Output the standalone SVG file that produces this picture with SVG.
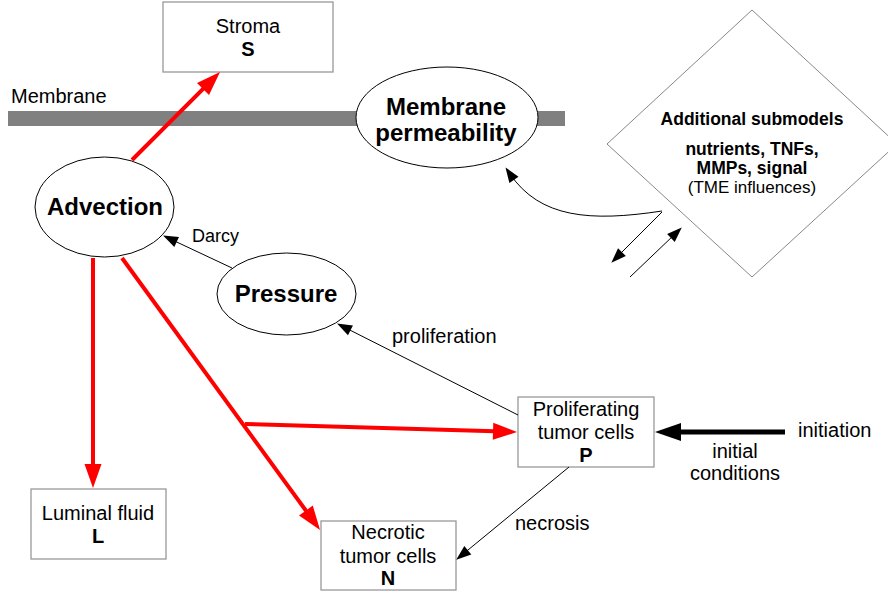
<svg xmlns="http://www.w3.org/2000/svg" width="888" height="595" viewBox="0 0 888 595">
<style>
text{font-family:"Liberation Sans",Arial,sans-serif;fill:#000}
.t{font-size:20px}
.c{text-anchor:middle}
.b{font-weight:bold}
.big{font-size:24px;font-weight:bold;text-anchor:middle}
.dm{font-size:17.5px;font-weight:bold;text-anchor:middle}
.box{fill:#fff;stroke:#999;stroke-width:1.3}
.ell{fill:#fff;stroke:#000;stroke-width:1}
.red{stroke:#ff0000;stroke-width:4;fill:none;marker-end:url(#ar)}
.blk{stroke:#000;stroke-width:1;fill:none;marker-end:url(#ab)}
</style>
<defs>
<marker id="ar" markerUnits="userSpaceOnUse" markerWidth="24" markerHeight="17" refX="10" refY="8.5" orient="auto" overflow="visible"><path d="M0,0 L24,8.5 L0,17 z" fill="#ff0000"/></marker>
<marker id="ab" markerUnits="userSpaceOnUse" markerWidth="15" markerHeight="11" refX="7" refY="5.5" orient="auto" overflow="visible"><path d="M0,0 L15,5.5 L0,11 z" fill="#000"/></marker>
<marker id="abig" markerUnits="userSpaceOnUse" markerWidth="26" markerHeight="18" refX="10" refY="9" orient="auto" overflow="visible"><path d="M0,0 L26,9 L0,18 z" fill="#000"/></marker>
</defs>
<g id="membrane">
<rect x="8" y="111" width="557" height="15" fill="#808080"/>
<text class="t" x="11" y="103">Membrane</text>
</g>
<g id="stroma">
<rect class="box" x="163" y="2" width="170" height="70"/>
<text class="t c" x="248" y="33">Stroma</text>
<text class="t c b" x="248" y="56">S</text>
</g>
<g id="permeability">
<ellipse class="ell" cx="447" cy="117.5" rx="91" ry="50.5"/>
<text class="big" x="446" y="115">Membrane</text>
<text class="big" x="446" y="141">permeability</text>
</g>
<g id="submodels">
<polygon points="752,10 897,144 752,277 607,144" fill="#fff" stroke="#888" stroke-width="1"/>
<text class="dm" x="752" y="125">Additional submodels</text>
<text class="dm" x="752" y="155">nutrients, TNFs,</text>
<text class="dm" x="752" y="174">MMPs, signal</text>
<text x="752" y="193" font-size="17" text-anchor="middle">(TME influences)</text>
</g>
<g id="advection">
<ellipse class="ell" cx="104.5" cy="207" rx="69.5" ry="50"/>
<text class="big" x="105" y="215">Advection</text>
</g>
<g id="pressure">
<ellipse class="ell" cx="286.5" cy="294" rx="69.5" ry="41"/>
<text class="big" x="286" y="302">Pressure</text>
</g>
<g id="proliferating">
<rect class="box" x="518" y="397" width="136" height="70"/>
<text class="t c" x="586" y="416">Proliferating</text>
<text class="t c" x="586" y="439">tumor cells</text>
<text class="t c b" x="586" y="462">P</text>
</g>
<g id="luminal">
<rect class="box" x="31" y="489" width="135" height="70"/>
<text class="t c" x="98" y="520">Luminal fluid</text>
<text class="t c b" x="98" y="543">L</text>
</g>
<g id="necrotic">
<rect class="box" x="321" y="521" width="135" height="69"/>
<text class="t c" x="388" y="539">Necrotic</text>
<text class="t c" x="388" y="563">tumor cells</text>
<text class="t c b" x="388" y="585">N</text>
</g>
<g id="connectors">
<line class="red" x1="132" y1="160" x2="210.1" y2="81.9"/>
<line class="red" x1="93" y1="258" x2="93" y2="474"/>
<line class="red" x1="122" y1="258" x2="311.8" y2="518.7"/>
<line class="red" x1="245" y1="424" x2="503" y2="431.6"/>
<line class="blk" x1="232" y1="268" x2="170.3" y2="239"/>
<line class="blk" x1="518" y1="415" x2="344.2" y2="327.2"/>
<line class="blk" x1="569" y1="467" x2="462.4" y2="554.6"/>
<path class="blk" d="M662,211 C590,222 540,218 510,174"/>
<line class="blk" x1="662" y1="212" x2="617" y2="257"/>
<line class="blk" x1="630" y1="277" x2="676" y2="233.1"/>
<line x1="785" y1="432" x2="671" y2="432" stroke="#000" stroke-width="5" marker-end="url(#abig)"/>
<text x="192" y="242" font-size="18">Darcy</text>
<text class="t" x="392" y="343">proliferation</text>
<text class="t" x="515" y="530">necrosis</text>
<text class="t" x="798" y="437">initiation</text>
<text class="t c" x="735" y="458">initial</text>
<text class="t c" x="735" y="480">conditions</text>
</g>
</svg>
